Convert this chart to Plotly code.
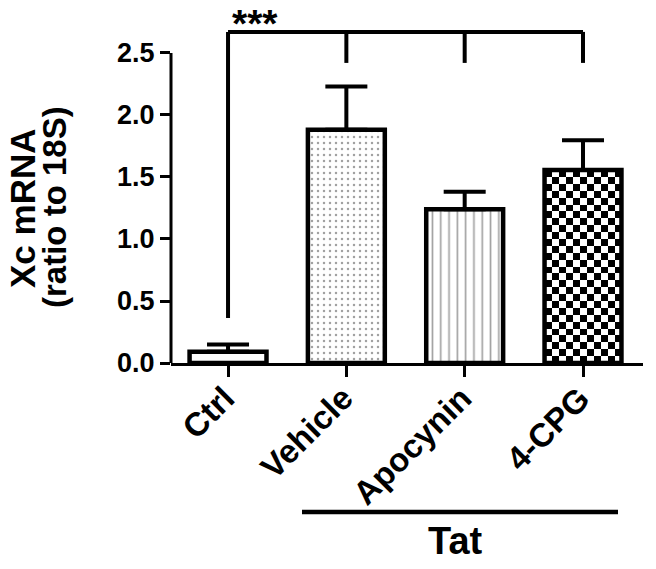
import numpy as np
import plotly.graph_objects as go

# ---- data ----
categories = ["Ctrl", "Vehicle", "Apocynin", "4-CPG"]
values = [0.09, 1.88, 1.24, 1.556]
errors = [0.06, 0.35, 0.14, 0.24]
y_ticks = [0.0, 0.5, 1.0, 1.5, 2.0, 2.5]
y_ticktext = ["0.0", "0.5", "1.0", "1.5", "2.0", "2.5"]
y_title_lines = ["Xc mRNA", "(ratio to 18S)"]
bracket_top = 2.67
bracket_drop = 2.42
bracket_left_bottom = 0.363
group_label = "Tat"
sig_label = "***"

# ---- layout constants ----
W, H = 656, 569
ML, MR, MT, MB = 171, 13, 20, 206
PW, PH = W - ML - MR, H - MT - MB
XR = [-0.482, 3.507]
YR = [0, 2.766]
BAR_W = 0.65
FONT = "Liberation Sans, Arial, sans-serif"

def px_x_to_paper(px):
    return (px - ML) / PW

def px_y_to_paper(py):
    return (H - MB - py) / PH

xpos = list(range(len(categories)))

fig = go.Figure()

# checkerboard fill for the 4-CPG bar (heatmap cells derived from the bar's value)
cell_px = 7.0
xs_per_px = (XR[1] - XR[0]) / PW
ys_per_px = (YR[1] - YR[0]) / PH
i_chk = 3
ncols = max(1, int(round(BAR_W / xs_per_px / cell_px)))
nrows = max(1, int(round(values[i_chk] / ys_per_px / cell_px)))
xe = np.linspace(xpos[i_chk] - BAR_W / 2, xpos[i_chk] + BAR_W / 2, ncols + 1)
ye = np.linspace(0, values[i_chk], nrows + 1)
z = [[(r + c) % 2 for c in range(ncols)] for r in range(nrows)]
fig.add_trace(go.Heatmap(x=xe, y=ye, z=z, colorscale=[[0, "white"], [1, "black"]],
                         showscale=False, hoverinfo="skip", zsmooth=False))

fig.add_trace(go.Bar(
    x=xpos, y=values, width=BAR_W,
    marker=dict(
        color=["white", "white", "white", "rgba(0,0,0,0)"],
        line=dict(color="black", width=4.5),
        pattern=dict(
            shape=["", ".", "|", ""],
            fgcolor=["black", "#505050", "#111111", "black"],
            bgcolor=["white", "white", "white", "rgba(0,0,0,0)"],
            size=[8, 6, 8.3, 8],
            solidity=[0.1, 0.14, 0.2, 0.1],
        ),
    ),
    error_y=dict(type="data", symmetric=False, array=errors, arrayminus=[0] * len(errors),
                 thickness=4, width=21, color="black"),
    showlegend=False,
))

shapes = []
# y axis line (stops at the top tick)
shapes.append(dict(type="line", xref="paper", yref="paper", x0=0, x1=0,
                   y0=0, y1=y_ticks[-1] / YR[1], line=dict(color="black", width=3)))
# significance bracket
shapes.append(dict(type="line", xref="x", yref="y", x0=xpos[0], x1=xpos[-1],
                   y0=bracket_top, y1=bracket_top, line=dict(color="black", width=4)))
shapes.append(dict(type="line", xref="x", yref="y", x0=xpos[0], x1=xpos[0],
                   y0=bracket_left_bottom, y1=bracket_top, line=dict(color="black", width=4)))
for xi in xpos[1:]:
    shapes.append(dict(type="line", xref="x", yref="y", x0=xi, x1=xi,
                       y0=bracket_drop, y1=bracket_top, line=dict(color="black", width=4)))
# Tat group line
shapes.append(dict(type="line", xref="paper", yref="paper",
                   x0=px_x_to_paper(302), x1=px_x_to_paper(618),
                   y0=px_y_to_paper(512), y1=px_y_to_paper(512),
                   line=dict(color="black", width=4.5)))

annotations = [
    dict(text=sig_label, xref="paper", yref="paper", x=px_x_to_paper(230), y=px_y_to_paper(24),
         xanchor="left", yanchor="middle", showarrow=False,
         font=dict(family=FONT, size=39, color="black", weight="bold")),
    dict(text=group_label, xref="paper", yref="paper", x=px_x_to_paper(455), y=px_y_to_paper(541),
         xanchor="center", yanchor="middle", showarrow=False,
         font=dict(family=FONT, size=38, color="black", weight="bold")),
    dict(text=y_title_lines[0], xref="paper", yref="paper",
         x=px_x_to_paper(23), y=px_y_to_paper(209), textangle=-90,
         xanchor="center", yanchor="middle", showarrow=False,
         font=dict(family=FONT, size=35, color="black", weight="bold")),
    dict(text=y_title_lines[1], xref="paper", yref="paper",
         x=px_x_to_paper(54), y=px_y_to_paper(207), textangle=-90,
         xanchor="center", yanchor="middle", showarrow=False,
         font=dict(family=FONT, size=33, color="black", weight="bold")),
]
# rotated category labels, anchored just below each tick
for xi, cat in zip(xpos, categories):
    annotations.append(dict(text=cat, xref="x", yref="paper", x=xi, y=px_y_to_paper(378),
                            xanchor="right", yanchor="top", xshift=15, textangle=-45,
                            showarrow=False, borderpad=0,
                            font=dict(family=FONT, size=33, color="black", weight="bold")))

fig.update_layout(
    width=W, height=H,
    margin=dict(l=ML, r=MR, t=MT, b=MB, pad=0),
    plot_bgcolor="white", paper_bgcolor="white",
    shapes=shapes, annotations=annotations,
    xaxis=dict(range=XR, tickmode="array", tickvals=xpos, ticktext=categories,
               showticklabels=False, ticks="outside", ticklen=11, tickwidth=3, tickcolor="black",
               showline=True, linewidth=3, linecolor="black", showgrid=False, zeroline=False,
               automargin=False),
    yaxis=dict(range=YR, tickmode="array", tickvals=y_ticks, ticktext=y_ticktext,
               ticks="outside", ticklen=10, tickwidth=3, tickcolor="black",
               showline=False, showgrid=False, zeroline=False, automargin=False,
               tickfont=dict(family=FONT, size=27, color="black", weight="bold")),
)

fig.write_html("out.html", config={"displayModeBar": False},
               post_script="document.body.style.margin='0px';")
